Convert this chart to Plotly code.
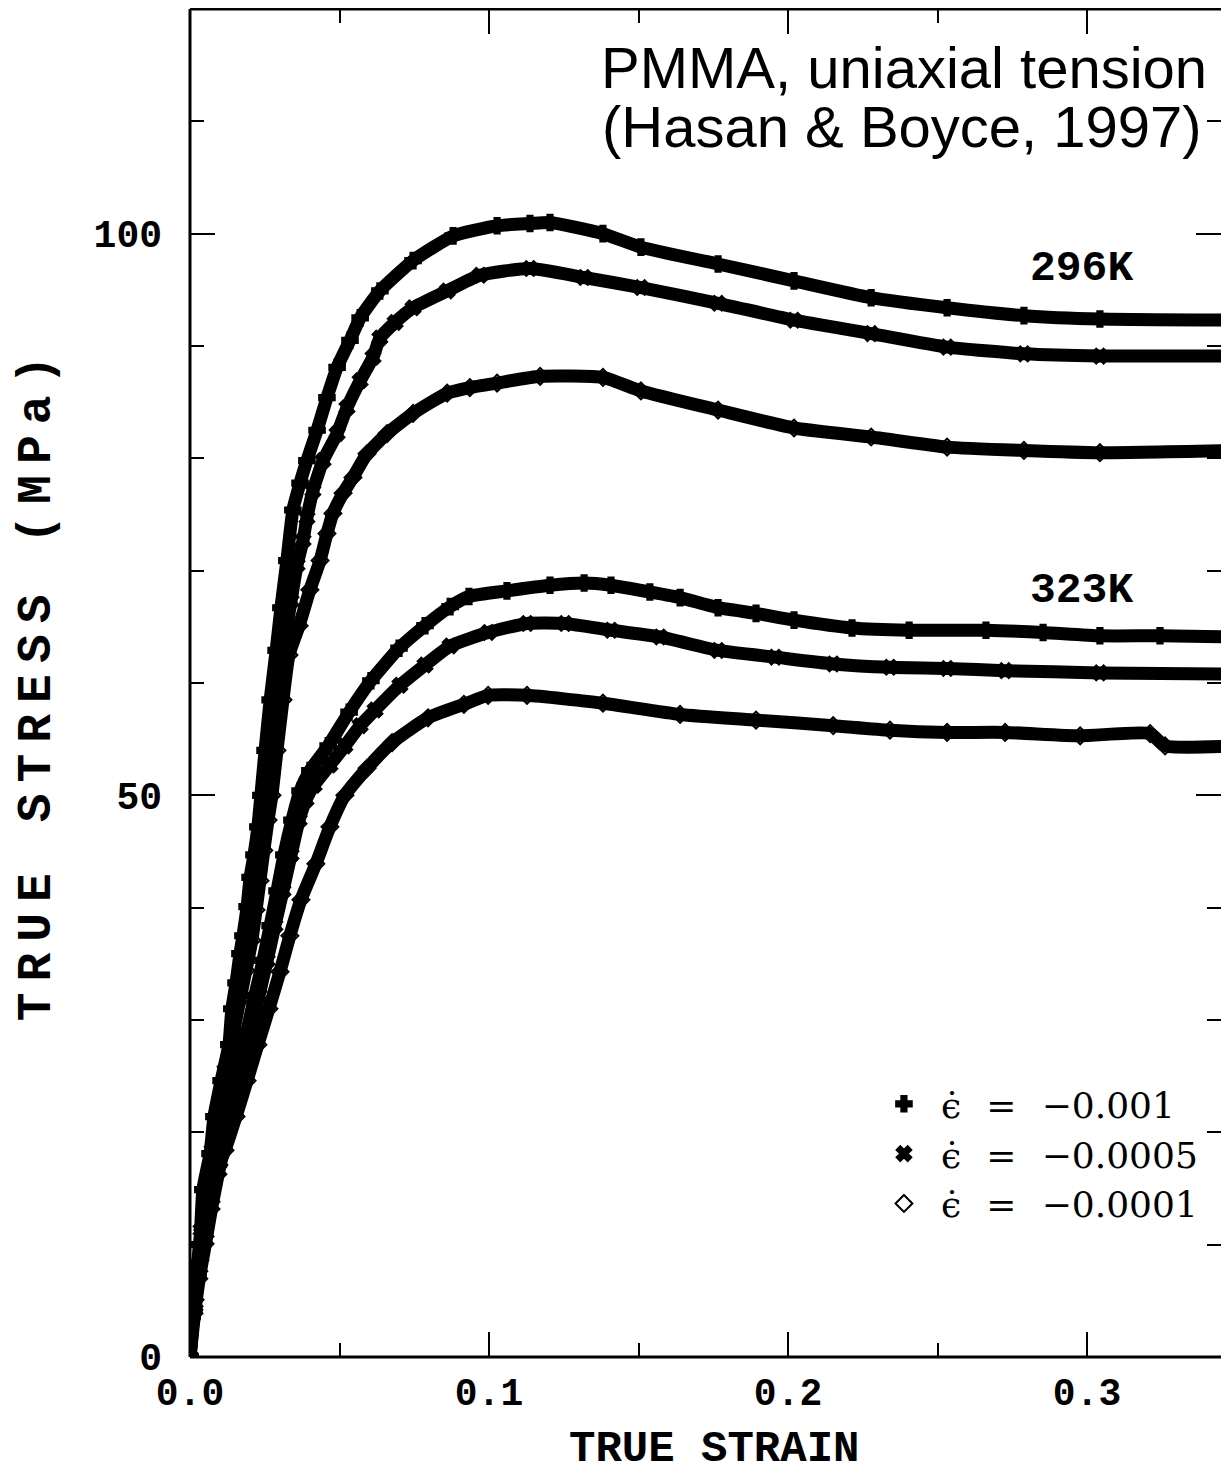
import plotly.graph_objects as go

# ---------------- data ----------------
strain_296_r1 = [0, 0.0007, 0.0020, 0.0033, 0.0043, 0.0067, 0.0080, 0.0104, 0.0130, 0.0140, 0.0154,
                 0.0167, 0.0177, 0.0191, 0.0201, 0.0214, 0.0227, 0.0237, 0.0251, 0.0268, 0.0288,
                 0.0304, 0.0324, 0.0344, 0.0368, 0.0391, 0.0425, 0.0458, 0.0492, 0.0535, 0.0569,
                 0.0635, 0.0746, 0.0880, 0.1027, 0.1137, 0.1204, 0.1381, 0.1508, 0.1766, 0.2020,
                 0.2278, 0.2532, 0.2789, 0.3043, 0.3500]
stress_296_r1 = [0, 3.6, 6.8, 10.0, 14.9, 18.1, 21.4, 24.6, 27.8, 31.0, 33.3,
                 35.9, 37.5, 40.1, 42.7, 44.7, 47.2, 50.0, 54.0, 58.5, 62.9,
                 66.7, 70.9, 75.4, 77.8, 79.8, 82.5, 85.4, 88.1, 90.5, 92.5,
                 94.9, 97.6, 99.8, 100.7, 100.9, 101.0, 100.0, 98.8, 97.3, 95.8,
                 94.3, 93.4, 92.7, 92.4, 92.3]

strain_296_r2 = [0, 0.0010, 0.0023, 0.0037, 0.0054, 0.0074, 0.0094, 0.0117, 0.0144, 0.0161, 0.0177,
                 0.0194, 0.0207, 0.0221, 0.0234, 0.0247, 0.0258, 0.0271, 0.0288, 0.0311, 0.0338,
                 0.0358, 0.0378, 0.0391, 0.0411, 0.0445, 0.0492, 0.0525, 0.0569, 0.0612, 0.0635,
                 0.0686, 0.0746, 0.0860, 0.0970, 0.1137, 0.1318, 0.1508, 0.1766, 0.2020, 0.2278,
                 0.2532, 0.2789, 0.3043, 0.3500]
stress_296_r2 = [0, 4.2, 7.7, 11.3, 14.9, 18.4, 22.0, 25.5, 29.1, 31.8, 34.4,
                 37.1, 39.8, 42.4, 45.1, 47.8, 50.0, 54.0, 58.5, 62.9, 67.3,
                 70.5, 72.7, 74.7, 77.1, 79.8, 82.2, 84.5, 86.9, 89.0, 90.7,
                 92.1, 93.4, 94.9, 96.3, 96.9, 96.1, 95.2, 93.8, 92.3, 91.1,
                 89.9, 89.3, 89.1, 89.1]

strain_296_r3 = [0, 0.0013, 0.0027, 0.0043, 0.0060, 0.0080, 0.0100, 0.0124, 0.0147, 0.0167, 0.0187,
                 0.0207, 0.0221, 0.0234, 0.0247, 0.0261, 0.0274, 0.0291, 0.0311, 0.0331, 0.0365,
                 0.0401, 0.0435, 0.0458, 0.0478, 0.0512, 0.0545, 0.0592, 0.0659, 0.0746, 0.0860,
                 0.0936, 0.1027, 0.1171, 0.1381, 0.1508, 0.1766, 0.2020, 0.2278, 0.2532, 0.2789,
                 0.3043, 0.3500]
stress_296_r3 = [0, 4.2, 7.7, 11.3, 14.9, 18.4, 22.0, 25.5, 29.1, 31.8, 34.4,
                 37.1, 39.8, 42.4, 45.1, 47.8, 50.0, 54.0, 58.5, 62.5, 65.1,
                 68.3, 70.9, 73.3, 75.1, 76.9, 78.3, 80.4, 82.2, 84.0, 85.8,
                 86.3, 86.7, 87.3, 87.2, 86.0, 84.3, 82.7, 81.9, 81.0, 80.7,
                 80.5, 80.7]

strain_323_r1 = [0, 0.0013, 0.0027, 0.0043, 0.0064, 0.0087, 0.0110, 0.0137, 0.0164, 0.0191, 0.0217,
                 0.0244, 0.0268, 0.0291, 0.0314, 0.0341, 0.0368, 0.0401, 0.0462, 0.0532, 0.0605,
                 0.0699, 0.0786, 0.0870, 0.0933, 0.1060, 0.1204, 0.1318, 0.1408, 0.1538, 0.1639,
                 0.1766, 0.1893, 0.2020, 0.2214, 0.2405, 0.2662, 0.2853, 0.3043, 0.3244, 0.3500]
stress_323_r1 = [0, 4.2, 7.3, 10.4, 13.5, 16.6, 19.8, 22.9, 26.0, 29.1, 32.2,
                 35.3, 38.4, 41.5, 44.7, 47.8, 50.4, 52.2, 54.4, 57.4, 60.2,
                 63.1, 65.1, 66.8, 67.7, 68.2, 68.7, 68.9, 68.7, 68.1, 67.6,
                 66.7, 66.2, 65.6, 64.9, 64.7, 64.7, 64.5, 64.2, 64.2, 64.1]

strain_323_r2 = [0, 0.0017, 0.0033, 0.0054, 0.0074, 0.0097, 0.0124, 0.0151, 0.0177, 0.0204, 0.0231,
                 0.0258, 0.0284, 0.0311, 0.0338, 0.0365, 0.0388, 0.0415, 0.0468, 0.0518, 0.0569,
                 0.0619, 0.0702, 0.0786, 0.0870, 0.0997, 0.1127, 0.1254, 0.1408, 0.1572, 0.1766,
                 0.1957, 0.2151, 0.2341, 0.2532, 0.2726, 0.3043, 0.3500]
stress_323_r2 = [0, 4.2, 7.3, 10.4, 13.5, 16.6, 19.8, 22.9, 26.0, 29.1, 32.2,
                 35.3, 38.4, 41.5, 44.7, 47.8, 49.6, 50.9, 52.7, 54.4, 56.2,
                 57.6, 59.8, 61.6, 63.3, 64.5, 65.3, 65.3, 64.7, 64.1, 62.9,
                 62.3, 61.7, 61.4, 61.3, 61.1, 60.9, 60.8]

strain_323_r3 = [0, 0.0017, 0.0033, 0.0054, 0.0077, 0.0097, 0.0117, 0.0154, 0.0191, 0.0227, 0.0264,
                 0.0301, 0.0334, 0.0371, 0.0421, 0.0468, 0.0518, 0.0592, 0.0676, 0.0796, 0.0916,
                 0.0997, 0.1127, 0.1381, 0.1639, 0.1893, 0.2151, 0.2341, 0.2532, 0.2726, 0.2977,
                 0.3211, 0.3261, 0.3500]
stress_323_r3 = [0, 5.1, 8.6, 12.2, 15.3, 17.1, 18.4, 21.4, 24.6, 27.8, 31.0,
                 34.3, 37.5, 40.7, 43.9, 47.2, 50.0, 52.4, 54.7, 56.9, 58.1,
                 58.9, 58.9, 58.2, 57.2, 56.7, 56.2, 55.8, 55.6, 55.6, 55.3,
                 55.5, 54.4, 54.4]

sp = "\u2002\u2009"
rate_labels = ["\u03f5\u0307" + sp + "=" + sp + "\u22120.001",
               "\u03f5\u0307" + sp + "=" + sp + "\u22120.0005",
               "\u03f5\u0307" + sp + "=" + sp + "\u22120.0001"]
temp_labels = ["296K", "323K"]
x_tick_vals = [0, 0.1, 0.2, 0.3]
x_tick_text = ["0.0", "0.1", "0.2", "0.3"]
y_tick_vals = [0, 50, 100]
y_tick_text = ["0", "50", "100"]

# ---------------- figure ----------------
series = [
    (strain_296_r1, stress_296_r1, "cross", 0),
    (strain_296_r2, stress_296_r2, "x", 1),
    (strain_296_r3, stress_296_r3, "diamond-open", 2),
    (strain_323_r1, stress_323_r1, "cross", 0),
    (strain_323_r2, stress_323_r2, "x", 1),
    (strain_323_r3, stress_323_r3, "diamond-open", 2),
]

fig = go.Figure()
shown = set()
for xs, ys, sym, ri in series:
    fig.add_trace(go.Scatter(x=xs, y=ys, mode="lines",
                             line=dict(color="black", width=13, shape="spline", smoothing=0.5),
                             showlegend=False, hoverinfo="skip"))
    fig.add_trace(go.Scatter(x=xs, y=ys, mode="markers",
                             marker=dict(symbol=sym, size=13, color="black",
                                         line=dict(color="black", width=2)),
                             name=rate_labels[ri], legendgroup=str(ri),
                             showlegend=ri not in shown))
    shown.add(ri)

mono = "Liberation Mono"
fig.update_layout(
    width=1213, height=1468,
    margin=dict(l=182, r=0, t=1, b=119),
    plot_bgcolor="white", paper_bgcolor="white",
    font=dict(family=mono, color="black"),
    legend=dict(x=0.6566, y=0.21, xanchor="left", yanchor="top",
                font=dict(family="DejaVu Serif", size=36, color="black"),
                bgcolor="rgba(0,0,0,0)", tracegroupgap=0, itemwidth=64),
    xaxis=dict(range=[0, 0.3448], tickvals=x_tick_vals, ticktext=x_tick_text,
               ticks="inside", ticklen=25, tickwidth=2, tickcolor="black",
               minor=dict(dtick=0.05, ticks="inside", ticklen=14, tickwidth=2, tickcolor="black"),
               showline=False, mirror="ticks", automargin=False,
               showgrid=False, zeroline=False,
               tickfont=dict(family=mono, size=38, weight="bold"), ticklabelstandoff=9),
    yaxis=dict(range=[0, 120], tickvals=y_tick_vals, ticktext=y_tick_text,
               ticks="inside", ticklen=25, tickwidth=2, tickcolor="black",
               minor=dict(dtick=10, ticks="inside", ticklen=14, tickwidth=2, tickcolor="black"),
               showline=False, mirror="ticks", automargin=False,
               showgrid=False, zeroline=False,
               tickfont=dict(family=mono, size=38, weight="bold"), ticklabelstandoff=27,
               title=dict(text='<span style="letter-spacing:11px">TRUE STRESS (MPa)</span>',
                          font=dict(family=mono, size=48, weight="bold"), standoff=27)),
)

# frame: left, bottom and top edges (right edge lies outside the picture)
for x0, y0, x1, y1 in [(0, 0, 1, 0), (0, 1, 1, 1), (0, 0, 0, 1)]:
    fig.add_shape(type="line", xref="paper", yref="paper", x0=x0, y0=y0, x1=x1, y1=y1,
                  line=dict(color="black", width=3), layer="above")

# x-axis title placed as an annotation so it can sit close to the bottom edge
fig.add_annotation(x=0.508, y=-0.0683, xref="paper", yref="paper", xanchor="center", yanchor="middle",
                   text="TRUE STRAIN", showarrow=False,
                   font=dict(family=mono, size=44, color="black", weight="bold"))

fig.add_annotation(x=0.9884, y=0.9565, xref="paper", yref="paper", xanchor="right", yanchor="middle",
                   text="PMMA, uniaxial tension", showarrow=False,
                   font=dict(family="Liberation Sans", size=58, color="black"))
fig.add_annotation(x=0.9835, y=0.9125, xref="paper", yref="paper", xanchor="right", yanchor="middle",
                   text="(Hasan &amp; Boyce, 1997)", showarrow=False,
                   font=dict(family="Liberation Sans", size=58, color="black"))
fig.add_annotation(x=0.2983, y=96.9, xref="x", yref="y", xanchor="center", yanchor="middle",
                   text=temp_labels[0], showarrow=False,
                   font=dict(family=mono, size=43, color="black", weight="bold"))
fig.add_annotation(x=0.2983, y=68.2, xref="x", yref="y", xanchor="center", yanchor="middle",
                   text=temp_labels[1], showarrow=False,
                   font=dict(family=mono, size=43, color="black", weight="bold"))

fig.write_html("out.html")
